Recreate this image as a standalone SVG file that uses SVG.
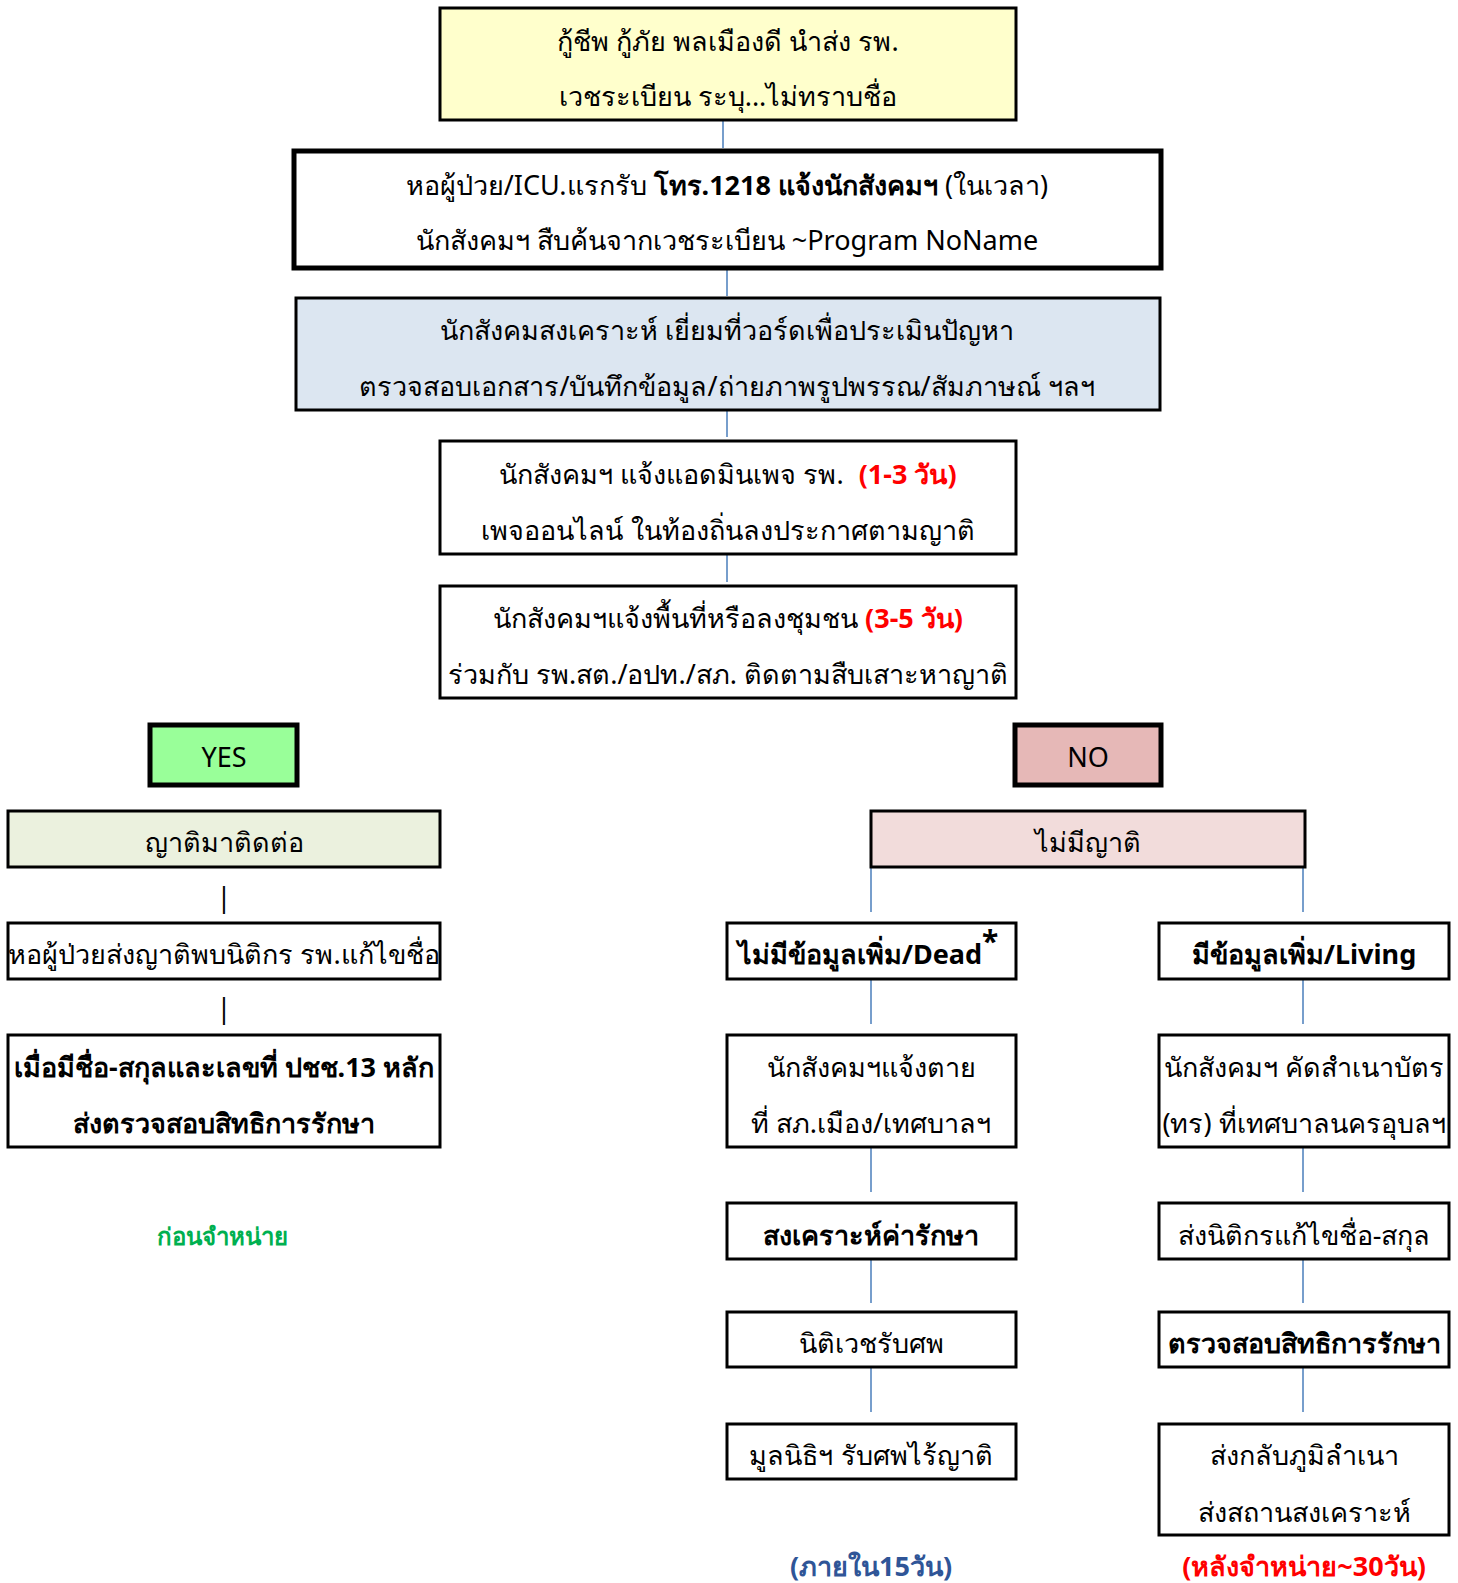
<svg xmlns="http://www.w3.org/2000/svg" width="1458" height="1583" viewBox="0 0 1458 1583">
<style>
text{font-family:"Noto Sans","DejaVu Sans",sans-serif;font-size:27px;fill:#000;text-anchor:middle}
.b{font-weight:bold}
.red{fill:#FF0000;font-weight:bold}
.box{stroke:#000;stroke-width:3;fill:#fff}
.thick{stroke:#000;stroke-width:5}
.con{stroke:#4A7EBB;stroke-width:1.5;fill:none}
</style>
<rect width="1458" height="1583" fill="#fff"/>
<g id="connectors">
<line class="con" x1="723" y1="120" x2="723" y2="148"/>
<line class="con" x1="727" y1="268" x2="727" y2="296"/>
<line class="con" x1="727" y1="410" x2="727" y2="437"/>
<line class="con" x1="727" y1="554" x2="727" y2="582"/>
<line class="con" x1="871" y1="867" x2="871" y2="912"/>
<line class="con" x1="1303" y1="867" x2="1303" y2="912"/>
<line class="con" x1="871" y1="979" x2="871" y2="1024"/>
<line class="con" x1="1303" y1="979" x2="1303" y2="1024"/>
<line class="con" x1="871" y1="1147" x2="871" y2="1192"/>
<line class="con" x1="1303" y1="1147" x2="1303" y2="1192"/>
<line class="con" x1="871" y1="1259" x2="871" y2="1303"/>
<line class="con" x1="1303" y1="1259" x2="1303" y2="1303"/>
<line class="con" x1="871" y1="1367" x2="871" y2="1412"/>
<line class="con" x1="1303" y1="1367" x2="1303" y2="1412"/>
</g>
<g id="n1">
<rect class="box" x="440" y="8" width="576" height="112" style="fill:#FFFFCC"/>
<text x="728" y="51">กู้ชีพ กู้ภัย พลเมืองดี นำส่ง รพ.</text>
<text x="728" y="106">เวชระเบียน ระบุ...ไม่ทราบชื่อ</text>
</g>
<g id="n2">
<rect class="box thick" x="294" y="151" width="867" height="117"/>
<text x="727" y="195">หอผู้ป่วย/ICU.แรกรับ <tspan class="b">โทร.1218 แจ้งนักสังคมฯ</tspan> (ในเวลา)</text>
<text x="727" y="250">นักสังคมฯ สืบค้นจากเวชระเบียน ~Program NoName</text>
</g>
<g id="n3">
<rect class="box" x="296" y="298" width="864" height="112" style="fill:#DCE6F1"/>
<text x="727" y="340">นักสังคมสงเคราะห์ เยี่ยมที่วอร์ดเพื่อประเมินปัญหา</text>
<text x="727" y="396">ตรวจสอบเอกสาร/บันทึกข้อมูล/ถ่ายภาพรูปพรรณ/สัมภาษณ์ ฯลฯ</text>
</g>
<g id="n4">
<rect class="box" x="440" y="441" width="576" height="113"/>
<text x="728" y="484">นักสังคมฯ แจ้งแอดมินเพจ รพ. <tspan class="red" dx="8">(1-3 วัน)</tspan></text>
<text x="728" y="540">เพจออนไลน์ ในท้องถิ่นลงประกาศตามญาติ</text>
</g>
<g id="n5">
<rect class="box" x="440" y="586" width="576" height="112"/>
<text x="728" y="628">นักสังคมฯแจ้งพื้นที่หรือลงชุมชน <tspan class="red">(3-5 วัน)</tspan></text>
<text x="728" y="684">ร่วมกับ รพ.สต./อปท./สภ. ติดตามสืบเสาะหาญาติ</text>
</g>
<g id="yes">
<rect class="thick" x="150" y="725" width="147" height="60" fill="#99FF99"/>
<text x="224" y="767">YES</text>
</g>
<g id="no">
<rect class="thick" x="1015" y="725" width="146" height="60" fill="#E6B8B7"/>
<text x="1088" y="767">NO</text>
</g>
<g id="y1">
<rect class="box" x="8" y="811" width="432" height="56" style="fill:#EBF1DE"/>
<text x="224" y="852">ญาติมาติดต่อ</text>
</g>
<text x="224" y="907">|</text>
<g id="y2">
<rect class="box" x="8" y="923" width="432" height="56"/>
<text x="224" y="964">หอผู้ป่วยส่งญาติพบนิติกร รพ.แก้ไขชื่อ</text>
</g>
<text x="224" y="1018">|</text>
<g id="y3">
<rect class="box" x="8" y="1035" width="432" height="112"/>
<text class="b" x="224" y="1077">เมื่อมีชื่อ-สกุลและเลขที่ ปชช.13 หลัก</text>
<text class="b" x="224" y="1133">ส่งตรวจสอบสิทธิการรักษา</text>
</g>
<text class="b" x="222" y="1245" style="fill:#00B050;font-size:24px">ก่อนจำหน่าย</text>
<g id="n6">
<rect class="box" x="871" y="811" width="434" height="56" style="fill:#F2DCDB"/>
<text x="1088" y="852">ไม่มีญาติ</text>
</g>
<g id="d1">
<rect class="box" x="727" y="923" width="289" height="56"/>
<text class="b" x="868" y="964">ไม่มีข้อมูลเพิ่ม/Dead<tspan dy="-12" style="font-size:30px">*</tspan></text>
</g>
<g id="d2">
<rect class="box" x="727" y="1035" width="289" height="112"/>
<text x="871" y="1077">นักสังคมฯแจ้งตาย</text>
<text x="871" y="1133">ที่ สภ.เมือง/เทศบาลฯ</text>
</g>
<g id="d3">
<rect class="box" x="727" y="1203" width="289" height="56"/>
<text class="b" x="871" y="1245">สงเคราะห์ค่ารักษา</text>
</g>
<g id="d4">
<rect class="box" x="727" y="1312" width="289" height="55"/>
<text x="871" y="1353">นิติเวชรับศพ</text>
</g>
<g id="d5">
<rect class="box" x="727" y="1424" width="289" height="55"/>
<text x="871" y="1465">มูลนิธิฯ รับศพไร้ญาติ</text>
</g>
<text class="b" x="871" y="1576" style="fill:#2F5597">(ภายใน15วัน)</text>
<g id="l1">
<rect class="box" x="1159" y="923" width="290" height="56"/>
<text class="b" x="1304" y="964">มีข้อมูลเพิ่ม/Living</text>
</g>
<g id="l2">
<rect class="box" x="1159" y="1035" width="290" height="112"/>
<text x="1304" y="1077">นักสังคมฯ คัดสำเนาบัตร</text>
<text x="1304" y="1133">(ทร) ที่เทศบาลนครอุบลฯ</text>
</g>
<g id="l3">
<rect class="box" x="1159" y="1203" width="290" height="56"/>
<text x="1304" y="1245">ส่งนิติกรแก้ไขชื่อ-สกุล</text>
</g>
<g id="l4">
<rect class="box" x="1159" y="1312" width="290" height="55"/>
<text class="b" x="1304" y="1353">ตรวจสอบสิทธิการรักษา</text>
</g>
<g id="l5">
<rect class="box" x="1159" y="1424" width="290" height="111"/>
<text x="1304" y="1465">ส่งกลับภูมิลำเนา</text>
<text x="1304" y="1522">ส่งสถานสงเคราะห์</text>
</g>
<text class="red" x="1304" y="1576">(หลังจำหน่าย~30วัน)</text>
</svg>
